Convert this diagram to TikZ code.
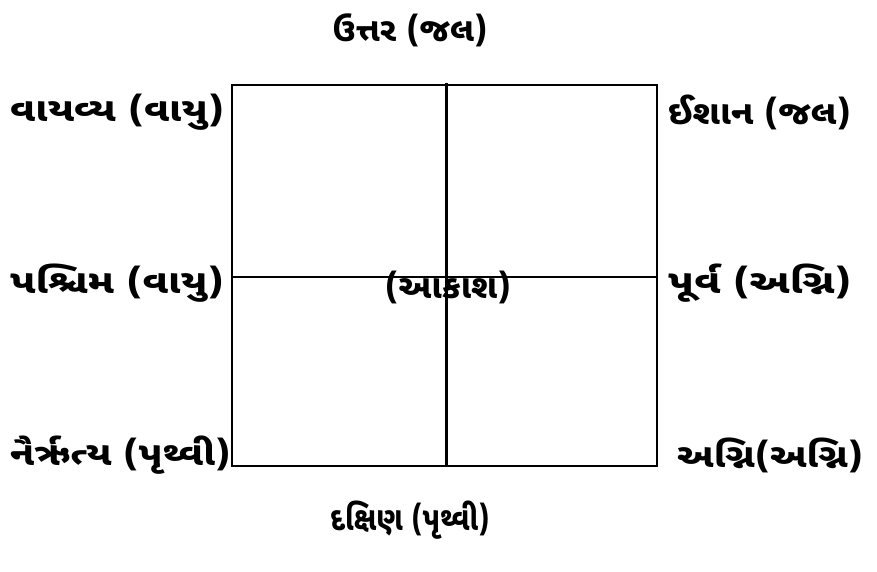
\documentclass[tikz,border=0pt]{standalone}
\usepackage{fontspec}
\usepackage{graphicx}
\newfontfamily\guj[Script=Gujarati]{Noto Sans Gujarati UI}
\newcommand{\gtxt}[2]{\scalebox{#1}[1]{#2}}
\begin{document}
\begin{tikzpicture}[x=1pt,y=-1pt,
  lbl/.style={font=\guj\bfseries\fontsize{33}{36}\selectfont, inner sep=0pt},
  thinline/.style={line width=2.2pt},
  thickline/.style={line width=3pt}]
\useasboundingbox (0,0) rectangle (877,572);
\coordinate (tl) at (232,85);
\coordinate (br) at (657,466);
\coordinate (vt) at (446,83);
\coordinate (vb) at (446,466);
\coordinate (hl) at (232,277);
\coordinate (hr) at (657,277);
\draw[thinline] (tl) rectangle (br);
\draw[thinline] (hl) -- (hr);
\draw[thickline] (vt) -- (vb);
\node[lbl] (n) at (410,30) {\gtxt{1.02}{ઉત્તર (જલ)}};
\node[lbl] (s) at (410,520) {\gtxt{0.86}{દક્ષિણ (પૃથ્વી)}};
\node[lbl,anchor=west] (nw) at (10,112) {\gtxt{1.22}{વાયવ્ય (વાયુ)}};
\node[lbl,anchor=west] (w) at (10,283) {\gtxt{1.24}{પશ્ચિમ (વાયુ)}};
\node[lbl,anchor=west] (sw) at (10,455) {\gtxt{1.18}{નૈર્ઋત્ય (પૃથ્વી)}};
\node[lbl,anchor=west] (ne) at (668,112) {\gtxt{1.09}{ઈશાન (જલ)}};
\node[lbl,anchor=west] (e) at (668,283) {\gtxt{1.27}{પૂર્વ (અગ્નિ)}};
\node[lbl,anchor=west] (se) at (677,455) {\gtxt{1.16}{અગ્નિ(અગ્નિ)}};
\node[lbl] (c) at (448,287) {\gtxt{1.04}{(આકાશ)}};
\end{tikzpicture}
\end{document}
